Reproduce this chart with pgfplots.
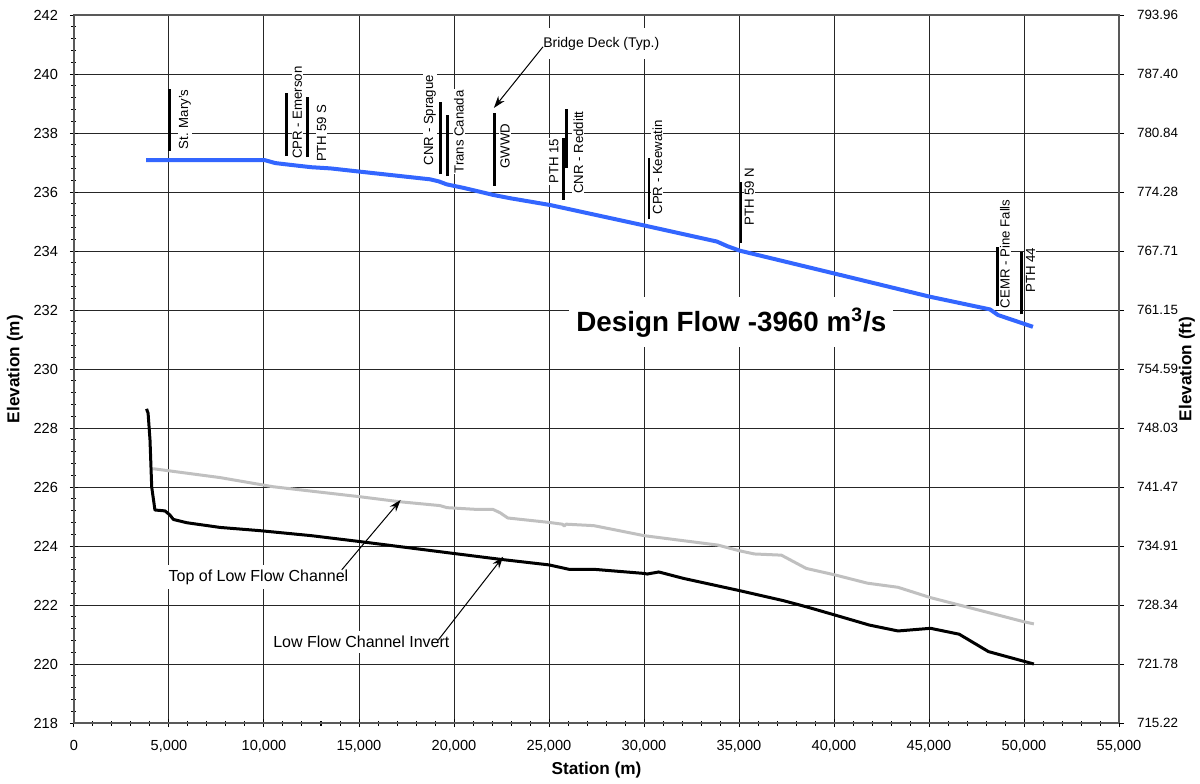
\documentclass[border=0pt]{standalone}
\usepackage{fontspec}
\setmainfont{Liberation Sans}
\usepackage{pgfplots}
\pgfplotsset{compat=1.18}
\usetikzlibrary{arrows.meta}
\definecolor{wsblue}{RGB}{51,102,255}
\definecolor{lfgray}{RGB}{192,192,192}
\begin{document}
\begin{tikzpicture}
\begin{axis}[name=main, scale only axis, width=522.5pt, height=354pt,
 xmin=0, xmax=55000, ymin=218, ymax=242,
 xtick={0,5000,...,55000}, ytick={218,220,...,242},
 minor x tick num=4, minor y tick num=4,
 xtick pos=bottom, ytick pos=left,
 tick align=center, major tick length=4pt, minor tick length=2.5pt,
 tick style={black, line width=0.5pt},
 grid=major, major grid style={black!85, line width=0.5pt},
 axis line style={black!65, line width=1pt},
 scaled x ticks=false,
 /pgf/number format/.cd, 1000 sep={,}, assume math mode=true, /pgfplots/.cd,
 ticklabel style={font=\fontsize{7.3}{8.8}\selectfont},
 xticklabel style={yshift=-3pt},
 yticklabel style={xshift=-2.5pt},
 xlabel={Station (m)}, ylabel={Elevation (m)},
 label style={font=\fontsize{8.6}{10}\selectfont\bfseries},
 xlabel style={at={(axis description cs:0.5,-0.0664)}, anchor=center},
 ylabel style={at={(axis description cs:-0.0565,0.5)}, anchor=center},
]
% water surface
\addplot[wsblue, line width=2pt, line join=round] coordinates {
(3790,237.08) (10040,237.08) (10600,236.98) (11530,236.91) (12500,236.84) (13500,236.8)
(15050,236.69) (18740,236.43) (19200,236.36) (19610,236.26) (20500,236.14) (22070,235.9)
(22950,235.79) (25050,235.56) (30050,234.86) (33840,234.32) (34400,234.16) (35050,234.01)
(40000,233.24) (45050,232.45) (48210,232.02) (48630,231.83) (50470,231.43)};
% top of low flow channel
\addplot[lfgray, line width=1.5pt, line join=round] coordinates {
(4170,226.62) (7680,226.32) (10470,226.01) (15050,225.67) (17150,225.5) (19260,225.37)
(19630,225.30) (21210,225.24) (22050,225.24) (22420,225.13) (22830,224.95) (23840,224.88)
(25000,224.8) (25700,224.74) (25800,224.68) (25900,224.74) (27360,224.69) (30010,224.35)
(33900,224.03) (35010,223.84) (35810,223.73) (37230,223.69) (38540,223.24) (40050,223.02)
(41760,222.74) (43370,222.6) (45080,222.25) (46590,222.0) (50010,221.43) (50520,221.36)};
% invert
\addplot[black, line width=1.5pt, line join=round] coordinates {
(3820,228.65) (3900,228.5) (4000,227.6) (4090,226.0) (4260,225.22) (4790,225.19)
(5050,225.05) (5230,224.9) (5930,224.79) (7680,224.63) (9790,224.52) (12500,224.35)
(15050,224.15) (17500,223.95) (19950,223.75) (22420,223.55) (25000,223.36) (26050,223.21)
(27360,223.21) (30010,223.07) (30170,223.05) (30780,223.12) (32090,222.9) (35010,222.49)
(37320,222.15) (38540,221.94) (40050,221.66) (41860,221.32) (43370,221.12) (45080,221.21)
(46590,221.01) (48130,220.42) (50520,220.0)};
% bridge labels
\tikzset{blab/.style={rotate=90, anchor=west, fill=white, inner sep=0.5pt, font=\fontsize{6.6}{8}\selectfont}}
\node[blab] at (axis cs:5842,237.40) {St. Mary's};
\node[blab] at (axis cs:11753,237.08) {CPR - Emerson};
\node[blab] at (axis cs:13036,236.97) {PTH 59 S};
\node[blab] at (axis cs:18736,236.86) {CNR - Sprague};
\node[blab] at (axis cs:20263,236.58) {Trans Canada};
\node[blab] at (axis cs:22684,236.75) {GWWD};
\node[blab] at (axis cs:25262,236.24) {PTH 15};
\node[blab] at (axis cs:26542,235.90) {CNR - Redditt};
\node[blab] at (axis cs:30699,235.19) {CPR - Keewatin};
\node[blab] at (axis cs:35541,234.82) {PTH 59 N};
\node[blab] at (axis cs:49000,232.02) {CEMR - Pine Falls};
\node[blab] at (axis cs:50351,232.54) {PTH 44};
% bridge decks
\addplot[black, line width=1.4pt] coordinates {(5016,237.40) (5016,239.48)};
\addplot[black, line width=1.4pt] coordinates {(11190,237.22) (11190,239.37)};
\addplot[black, line width=1.4pt] coordinates {(12280,237.18) (12280,239.23)};
\addplot[black, line width=1.4pt] coordinates {(19300,236.60) (19300,239.04)};
\addplot[black, line width=1.4pt] coordinates {(19650,236.54) (19650,238.61)};
\addplot[black, line width=1.4pt] coordinates {(22120,236.21) (22120,238.67)};
\addplot[black, line width=1.4pt] coordinates {(25750,235.73) (25750,237.82)};
\addplot[black, line width=1.4pt] coordinates {(25910,236.80) (25910,238.80)};
\addplot[black, line width=1.4pt] coordinates {(30260,235.07) (30260,237.16)};
\addplot[black, line width=1.4pt] coordinates {(35100,234.28) (35100,236.35)};
\addplot[black, line width=1.4pt] coordinates {(48600,232.14) (48600,234.15)};
\addplot[black, line width=1.4pt] coordinates {(49880,231.85) (49880,233.96)};
% annotations
\node[anchor=west, fill=white, inner xsep=2pt, inner ysep=4.4pt, font=\fontsize{7}{8}\selectfont] at (axis cs:24470,241.03) {Bridge Deck (Typ.)};
\draw[-{Stealth[length=6pt,width=4pt]}, line width=0.5pt] (axis cs:24680,240.92) -- (axis cs:22100,238.85);
\node[anchor=west, fill=white, inner xsep=2pt, inner ysep=2.5pt, font=\fontsize{8}{9.6}\selectfont] at (axis cs:4750,222.95) {Top of Low Flow Channel};
\draw[-{Stealth[length=6pt,width=4pt]}, line width=0.5pt] (axis cs:14090,223.19) -- (axis cs:17190,225.56);
\node[anchor=west, fill=white, inner xsep=2pt, inner ysep=2.5pt, font=\fontsize{8}{9.6}\selectfont] at (axis cs:10260,220.74) {Low Flow Channel Invert};
\draw[-{Stealth[length=6pt,width=4pt]}, line width=0.5pt] (axis cs:19170,220.81) -- (axis cs:22590,223.64);
\node[anchor=west, fill=white, inner xsep=3.5pt, inner ysep=5pt, font=\fontsize{13.9}{16}\selectfont\bfseries] at (axis cs:26050,231.58) {Design Flow -3960 m\textsuperscript{3}/s};
\end{axis}
\begin{axis}[scale only axis, width=522.5pt, height=354pt,
 xmin=0, xmax=55000, ymin=218, ymax=242,
 axis x line=none, axis y line*=right,
 ytick={218,220,...,242},
 yticklabels={715.22,721.78,728.34,734.91,741.47,748.03,754.59,761.15,767.71,774.28,780.84,787.40,793.96},
 tick align=outside, major tick length=2.5pt, minor tick num=0,
 tick style={black, line width=0.5pt},
 axis line style={black!65, line width=1pt},
 yticklabel style={font=\fontsize{6.7}{8}\selectfont, xshift=3pt},
 ylabel={Elevation (ft)},
 ylabel style={font=\fontsize{8.6}{10}\selectfont\bfseries, at={(axis description cs:1.0651,0.5)}, anchor=center},
]
\end{axis}
\pgfresetboundingbox
\path[use as bounding box] ([shift={(-37pt,-30pt)}]main.south west) rectangle ([shift={(40.5pt,7.5pt)}]main.north east);
\end{tikzpicture}
\end{document}
